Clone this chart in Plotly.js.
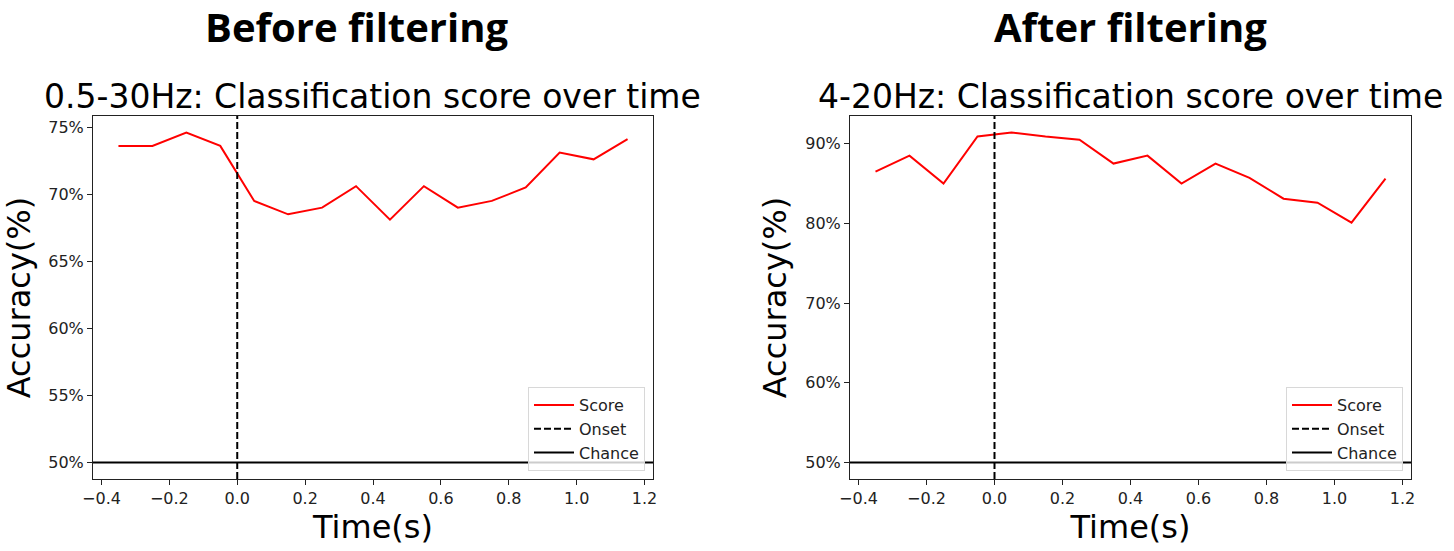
<!DOCTYPE html>
<html>
<head>
<meta charset="utf-8">
<script src="https://cdn.plot.ly/plotly-3.0.1.min.js"></script>
<style>html,body{margin:0;padding:0;background:#fff;}#chart{width:1454px;height:551px;}</style>
</head>
<body>
<div id="chart"></div>
<script>
// ---- data ----
const timeS = [-0.35,-0.25,-0.15,-0.05,0.05,0.15,0.25,0.35,0.45,0.55,0.65,0.75,0.85,0.95,1.05,1.15];
const scoreBefore = [73.6,73.6,74.6,73.6,69.5,68.5,69.0,70.6,68.1,70.6,69.0,69.5,70.5,73.1,72.6,74.1];
const scoreAfter  = [86.5,88.5,85.0,90.9,91.4,90.9,90.5,87.5,88.5,85.0,87.5,85.7,83.1,82.6,80.1,85.6];
const chanceLevel = 50;
const onsetTime = 0;
const ticksBefore = [50,55,60,65,70,75];
const ticksAfter = [50,60,70,80,90];
const xTicks = [-0.4,-0.2,0.0,0.2,0.4,0.6,0.8,1.0,1.2];
const panelTitles = ["Before filtering","After filtering"];
const subTitles = ["0.5-30Hz: Classification score over time","4-20Hz: Classification score over time"];
const legendNames = ["Score","Onset","Chance"];

// matplotlib-like autoscale (5% margins)
function pad(lo, hi){ const m=(hi-lo)*0.05; return [lo-m, hi+m]; }
const xRange = pad(Math.min(...timeS), Math.max(...timeS));
const yRangeB = pad(Math.min(chanceLevel, ...scoreBefore), Math.max(...scoreBefore));
const yRangeA = pad(Math.min(chanceLevel, ...scoreAfter), Math.max(...scoreAfter));

const W=1454, H=551;
const px = v => v/W, py = v => 1 - v/H;
const domX1 = [px(93), px(653)], domX2 = [px(850), px(1411)];
const domY = [py(479), py(116)];

const tickFont = {family:"DejaVu Sans", size:16, color:"#222"};
const bigFont = {family:"DejaVu Sans", size:32, color:"#000"};
const subFont = {family:"DejaVu Sans", size:33, color:"#000"};

function panelTraces(scores, yr, xa, ya, leg){
  return [
    {x: timeS, y: scores, type:'scatter', mode:'lines', name: legendNames[0],
     line:{color:'#ff0000', width:2}, xaxis:xa, yaxis:ya, legend:leg},
    {x: [onsetTime, onsetTime], y: yr, type:'scatter', mode:'lines', name: legendNames[1],
     line:{color:'#000', width:2, dash:'7px,3px'}, xaxis:xa, yaxis:ya, legend:leg},
    {x: xRange, y: [chanceLevel, chanceLevel], type:'scatter', mode:'lines', name: legendNames[2],
     line:{color:'#000', width:2}, xaxis:xa, yaxis:ya, legend:leg}
  ];
}

const data = [
  ...panelTraces(scoreBefore, yRangeB, 'x', 'y', 'legend'),
  ...panelTraces(scoreAfter, yRangeA, 'x2', 'y2', 'legend2')
];

function xax(dom, anchor){
  return {domain: dom, anchor: anchor, range: xRange, tickvals: xTicks,
    ticktext: xTicks.map(v => (v<0?'\u2212':'') + Math.abs(v).toFixed(1)),
    showgrid:false, zeroline:false, showline:true, linecolor:'#222', linewidth:1, mirror:true,
    ticks:'outside', ticklen:5, tickcolor:'#222', tickfont: tickFont,
    title:{text:'Time(s)', font: bigFont, standoff: 4}};
}
function yax(dom, anchor, yr, tv){
  return {domain: dom, anchor: anchor, range: yr, tickvals: tv, ticktext: tv.map(v=>v+'%'),
    showgrid:false, zeroline:false, showline:true, linecolor:'#222', linewidth:1, mirror:true,
    ticks:'outside', ticklen:5, tickcolor:'#222', tickfont: tickFont,
    title:{text:'Accuracy(%)', font: bigFont, standoff: 9}};
}
function leg(dom){
  return {x: dom[1]-px(8), y: domY[0]+ (8/H), xanchor:'right', yanchor:'bottom',
    xref:'paper', yref:'paper', bgcolor:'rgba(255,255,255,0.8)', bordercolor:'#d8d8d8', borderwidth:1,
    font:{family:"DejaVu Sans", size:16, color:'#222'}, tracegroupgap:0,
    itemwidth:40};
}

const titleFont = {family:'Open Sans', size:40, color:'#000', weight:'bold'};
const annotations = [
  {text:panelTitles[0], x:px(356), y:py(26), xref:'paper', yref:'paper', xanchor:'center', yanchor:'middle', showarrow:false, font:titleFont},
  {text:panelTitles[1], x:px(1130), y:py(26), xref:'paper', yref:'paper', xanchor:'center', yanchor:'middle', showarrow:false, font:titleFont},
  {text:subTitles[0], x:px(373), y:py(96), xref:'paper', yref:'paper', xanchor:'center', yanchor:'middle', showarrow:false, font: subFont},
  {text:subTitles[1], x:px(1130), y:py(96), xref:'paper', yref:'paper', xanchor:'center', yanchor:'middle', showarrow:false, font: subFont}
];

const layout = {
  width: W, height: H, margin:{l:0,r:0,t:0,b:0},
  paper_bgcolor:'#fff', plot_bgcolor:'#fff', showlegend:true,
  xaxis: xax(domX1,'y'), yaxis: yax(domY,'x',yRangeB,ticksBefore),
  xaxis2: xax(domX2,'y2'), yaxis2: yax(domY,'x2',yRangeA,ticksAfter),
  legend: leg(domX1), legend2: leg(domX2),
  annotations: annotations
};

Plotly.newPlot('chart', data, layout, {displayModeBar:false, staticPlot:true});
</script>
</body>
</html>
